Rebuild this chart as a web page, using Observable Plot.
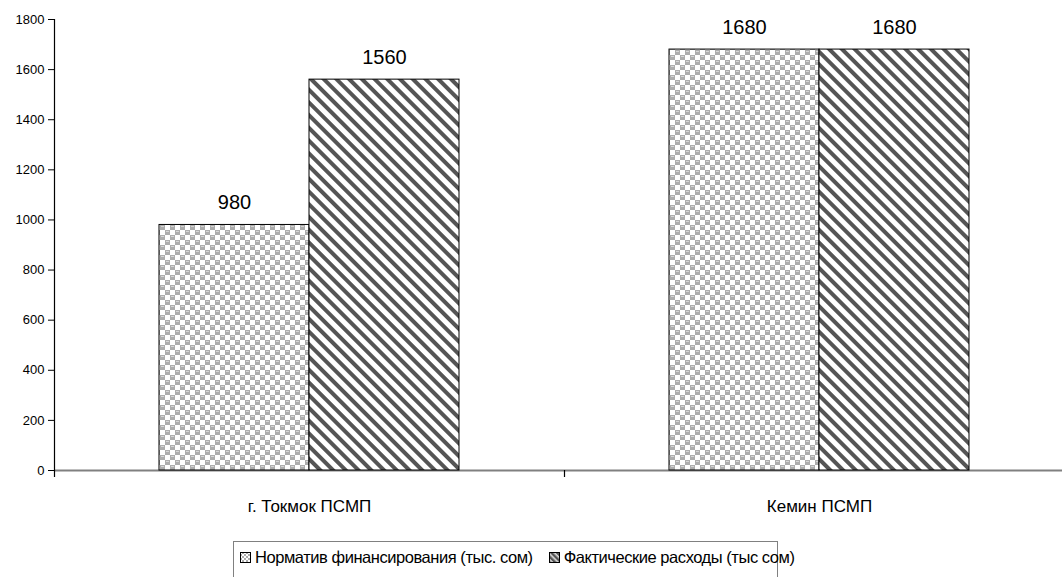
<!DOCTYPE html>
<html>
<head>
<meta charset="utf-8">
<script src="https://cdn.jsdelivr.net/npm/d3@7"></script>
<script src="https://cdn.jsdelivr.net/npm/@observablehq/plot@0.6"></script>
<style>
  html, body { margin: 0; padding: 0; background: #fff; }
  body { width: 1062px; height: 577px; overflow: hidden; position: relative;
         font-family: Arial, "Liberation Sans", sans-serif; }
  #chart svg { display: block; max-width: none !important; }
  #legend { position: absolute; left: 233px; top: 541px; width: 545px; height: 44px;
            border: 1px solid #808080; box-sizing: border-box; display: flex;
            align-items: flex-start; padding: 6px 0 0 6px; font-size: 16.5px;
            letter-spacing: -0.45px; color: #000; }
  #legend .item { display: flex; align-items: center; margin-right: 16px; white-space: nowrap; }
  #legend svg { margin-right: 3px; }
</style>
</head>
<body>
<svg width="0" height="0" style="position:absolute">
  <defs>
    <!-- gray checkerboard fill for the funding norm -->
    <pattern id="pat-norm" patternUnits="userSpaceOnUse" width="10" height="10">
      <rect width="10" height="10" fill="#adadad"></rect>
      <rect x="0" y="0" width="5" height="5" fill="#ffffff"></rect>
      <rect x="5" y="5" width="5" height="5" fill="#ffffff"></rect>
      <rect x="6" y="1" width="3" height="1" fill="#d6d6d6"></rect>
      <rect x="1" y="6" width="3" height="1" fill="#d6d6d6"></rect>
    </pattern>
    <!-- dark diagonal stripes for actual spending -->
    <pattern id="pat-fact" patternUnits="userSpaceOnUse" width="9" height="9" patternTransform="rotate(-45)">
      <rect width="9" height="9" fill="#ffffff"></rect>
      <rect x="0" y="0" width="4" height="9" fill="#555555"></rect>
    </pattern>
    <pattern id="pat-norm-s" patternUnits="userSpaceOnUse" width="4" height="4">
      <rect width="4" height="4" fill="#adadad"></rect>
      <rect x="0" y="0" width="2" height="2" fill="#ffffff"></rect>
      <rect x="2" y="2" width="2" height="2" fill="#ffffff"></rect>
    </pattern>
    <pattern id="pat-fact-s" patternUnits="userSpaceOnUse" width="4" height="4" patternTransform="rotate(-45)">
      <rect width="4" height="4" fill="#dddddd"></rect>
      <rect x="0" y="0" width="2.4" height="4" fill="#555555"></rect>
    </pattern>
  </defs>
</svg>
<div id="chart"></div>
<div id="legend"></div>
<script>
// Districts and the two spending series (thousand som)
const categories = ["г. Токмок ПСМП", "Кемин ПСМП"];
const seriesNames = ["Норматив финансирования (тыс. сом)", "Фактические расходы (тыс сом)"];
const normValues = [980, 1680];
const actualValues = [1560, 1680];
const yTicks = [0, 200, 400, 600, 800, 1000, 1200, 1400, 1600, 1800];
const seriesFills = ["url(#pat-norm)", "url(#pat-fact)"];
const swatchFills = ["url(#pat-norm-s)", "url(#pat-fact-s)"];

const rows = categories.flatMap((c, i) => [
  {category: c, series: seriesNames[0], value: normValues[i]},
  {category: c, series: seriesNames[1], value: actualValues[i]}
]);

const font = "Arial, 'Liberation Sans', sans-serif";

const chart = Plot.plot({
  width: 1074,
  height: 530,
  marginLeft: 54,
  marginRight: 0,
  marginTop: 19,
  marginBottom: 60,
  style: {fontFamily: font, fontSize: "13px", color: "#000", background: "transparent", overflow: "visible", maxWidth: "none"},
  fx: {domain: categories, padding: 0, label: null},
  x: {domain: seriesNames, paddingInner: 0, paddingOuter: 0.7, axis: null},
  y: {domain: [0, 1800], label: null},
  color: {domain: seriesNames, range: seriesFills},
  marks: [
    Plot.axisY({ticks: yTicks, tickFormat: d => String(d), tickSize: 6, tickPadding: 4, label: null, fontSize: 13}),
    Plot.axisFx({anchor: "bottom", tickSize: 0, tickPadding: 29, label: null, fontSize: 17}),
    Plot.ruleY([0], {stroke: "#808080", strokeWidth: 2}),
    Plot.barY(rows, {fx: "category", x: "series", y: "value", fill: "series", stroke: "#000", strokeWidth: 1}),
    Plot.text(rows, {fx: "category", x: "series", y: "value", text: d => String(d.value), dy: -22, fontSize: 20, fill: "#000"})
  ]
});

document.getElementById("chart").append(chart);

// Vertical axis line and the category boundary ticks below the baseline
const fxs = chart.scale("fx");
const ys = chart.scale("y");
const band = d3.scaleBand().domain(fxs.domain).range(fxs.range).padding(0);
const yLin = d3.scaleLinear().domain(ys.domain).range(ys.range);
const y0 = yLin(0), yTop = yLin(1800);
const svg = d3.select(chart);
const g = svg.append("g").attr("stroke", "#000").attr("stroke-width", 1.2);
g.append("line").attr("x1", band(categories[0]) + 0.5).attr("x2", band(categories[0]) + 0.5)
  .attr("y1", yTop).attr("y2", y0 + 7);
categories.slice(1).forEach(c => {
  g.append("line").attr("x1", band(c) + 0.5).attr("x2", band(c) + 0.5)
    .attr("y1", y0).attr("y2", y0 + 7);
});

// Legend below the chart
const legend = d3.select("#legend");
seriesNames.forEach((name, i) => {
  const item = legend.append("div").attr("class", "item");
  const sw = item.append("svg").attr("width", 12).attr("height", 12);
  sw.append("rect").attr("x", 0.5).attr("y", 0.5).attr("width", 10).attr("height", 10)
    .attr("fill", swatchFills[i]).attr("stroke", "#000");
  item.append("span").text(name);
});
</script>
</body>
</html>
